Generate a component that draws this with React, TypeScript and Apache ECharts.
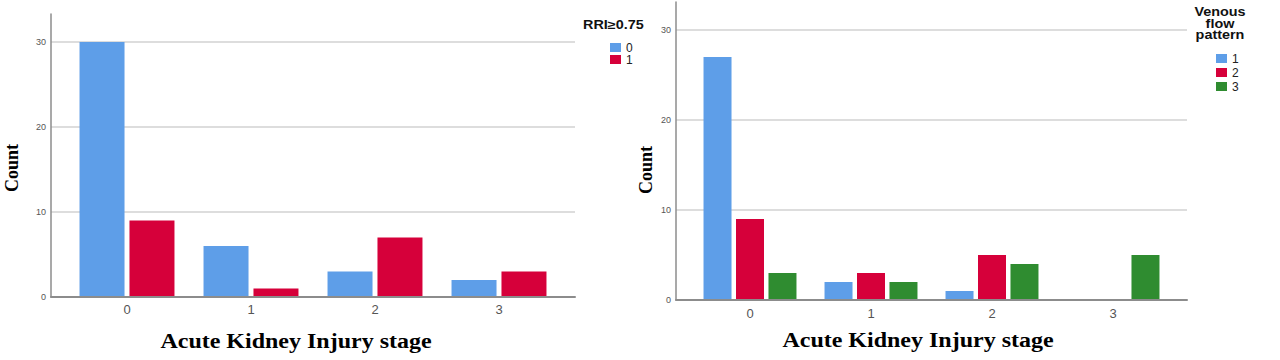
import React, { useEffect, useRef } from "react";
import * as echarts from "echarts";

const categories = ["0", "1", "2", "3"];
const rriNames = ["RRI 0", "RRI 1"];
const rri0 = [30, 6, 3, 2];
const rri1 = [9, 1, 7, 3];
const vfpNames = ["VFP 1", "VFP 2", "VFP 3"];
const vfp1 = [27, 2, 1, 0];
const vfp2 = [9, 3, 5, 0];
const vfp3 = [3, 2, 4, 5];

const BLUE = "#5e9ee8";
const RED = "#d6003a";
const GREEN = "#2f8c30";
const GRID_LINE = "#d2d2d2";
const AXIS_LINE = "#8c8c8c";
const SANS = "'Liberation Sans', Arial, sans-serif";
const SERIF = "'Liberation Serif', 'Times New Roman', serif";

function valueY(gridIndex: number, max: number, visible: boolean) {
  return {
    type: "value",
    gridIndex,
    min: 0,
    max,
    interval: 10,
    show: visible,
    axisLine: { show: true, lineStyle: { color: AXIS_LINE, width: 1.5 } },
    axisTick: { show: false },
    axisLabel: { show: true, color: "#555", fontSize: 9, fontFamily: SANS, margin: 5, showMaxLabel: false },
    splitLine: { show: visible, showMinLine: false, showMaxLine: false, lineStyle: { color: GRID_LINE, width: 1.5 } },
  };
}

function frameX(gridIndex: number) {
  return {
    type: "value",
    gridIndex,
    min: 0,
    max: 1,
    z: 5,
    axisLine: { show: true, lineStyle: { color: AXIS_LINE, width: 2 } },
    axisTick: { show: false },
    axisLabel: { show: false },
    splitLine: { show: false },
  };
}

function catX(gridIndex: number, margin: number) {
  return {
    type: "category",
    gridIndex,
    data: categories,
    axisLine: { show: false },
    axisTick: { show: false },
    axisLabel: { color: "#555", fontSize: 13, fontFamily: SANS, margin },
    splitLine: { show: false },
  };
}

export default function App() {
  const ref = useRef<HTMLDivElement>(null);
  useEffect(() => {
    document.body.style.margin = "0";
    if (!ref.current) return;
    const chart = echarts.init(ref.current, null, { renderer: "svg" });
    const legendFmt = (name: string) => name.split(" ").pop() as string;
    const countStyle = {
      text: "Count", fill: "#000", font: `bold 18px ${SERIF}`,
      align: "center", verticalAlign: "middle", textAlign: "center", textVerticalAlign: "middle",
    };
    const titleStyle = {
      text: "Acute Kidney Injury stage", fill: "#000", font: `bold 20px ${SERIF}`,
      align: "center", verticalAlign: "middle", textAlign: "center", textVerticalAlign: "middle",
    };
    const option: any = {
      animation: false,
      backgroundColor: "#ffffff",
      grid: [
        { left: 51, top: 14, width: 524, height: 283 },
        { left: 65, top: 14, width: 496, height: 283 },
        { left: 676, top: 2, width: 511, height: 298 },
        { left: 689.5, top: 2, width: 484, height: 298 },
      ],
      xAxis: [frameX(0), catX(1, 6), frameX(2), catX(3, 7)],
      yAxis: [valueY(0, 33.3, true), valueY(1, 33.3, false), valueY(2, 33.1, true), valueY(3, 33.1, false)],
      legend: [
        {
          data: rriNames,
          orient: "vertical",
          left: 605,
          top: 36.5,
          itemWidth: 11,
          itemHeight: 9,
          itemGap: 0,
          icon: "rect",
          formatter: legendFmt,
          textStyle: { color: "#222", fontSize: 12, lineHeight: 11, fontFamily: SANS },
        },
        {
          data: vfpNames,
          orient: "vertical",
          left: 1211,
          top: 47.5,
          itemWidth: 11,
          itemHeight: 9,
          itemGap: 2,
          icon: "rect",
          formatter: legendFmt,
          textStyle: { color: "#222", fontSize: 12, lineHeight: 11, fontFamily: SANS },
        },
      ],
      series: [
        { name: rriNames[0], type: "bar", xAxisIndex: 1, yAxisIndex: 1, data: rri0, barWidth: 45, barGap: "11%", itemStyle: { color: BLUE } },
        { name: rriNames[1], type: "bar", xAxisIndex: 1, yAxisIndex: 1, data: rri1, barWidth: 45, barGap: "11%", itemStyle: { color: RED } },
        { name: vfpNames[0], type: "bar", xAxisIndex: 3, yAxisIndex: 3, data: vfp1, barWidth: 28, barGap: "16%", itemStyle: { color: BLUE } },
        { name: vfpNames[1], type: "bar", xAxisIndex: 3, yAxisIndex: 3, data: vfp2, barWidth: 28, barGap: "16%", itemStyle: { color: RED } },
        { name: vfpNames[2], type: "bar", xAxisIndex: 3, yAxisIndex: 3, data: vfp3, barWidth: 28, barGap: "16%", itemStyle: { color: GREEN } },
      ],
      graphic: [
        { type: "text", x: 11, y: 168, rotation: Math.PI / 2, scaleY: 1.1, style: countStyle },
        { type: "text", x: 645, y: 170, rotation: Math.PI / 2, scaleY: 1.1, style: countStyle },
        { type: "text", x: 296, y: 341, scaleX: 1.2, style: titleStyle },
        { type: "text", x: 918, y: 340, scaleX: 1.2, style: titleStyle },
        {
          type: "text", x: 583, y: 25, scaleX: 1.2,
          style: { text: "RRI≥0.75", fill: "#111", font: `bold 12px ${SANS}`, align: "left", verticalAlign: "middle", textAlign: "left", textVerticalAlign: "middle" },
        },
        {
          type: "text", x: 1220, y: 23.5, scaleX: 1.2,
          style: { text: "Venous\nflow\npattern", fill: "#111", font: `bold 12px ${SANS}`, lineHeight: 11.5, align: "center", verticalAlign: "middle", textAlign: "center", textVerticalAlign: "middle" },
        },
      ],
    };
    chart.setOption(option);
    return () => chart.dispose();
  }, []);
  return <div ref={ref} style={{ width: 1280, height: 360 }} />;
}
